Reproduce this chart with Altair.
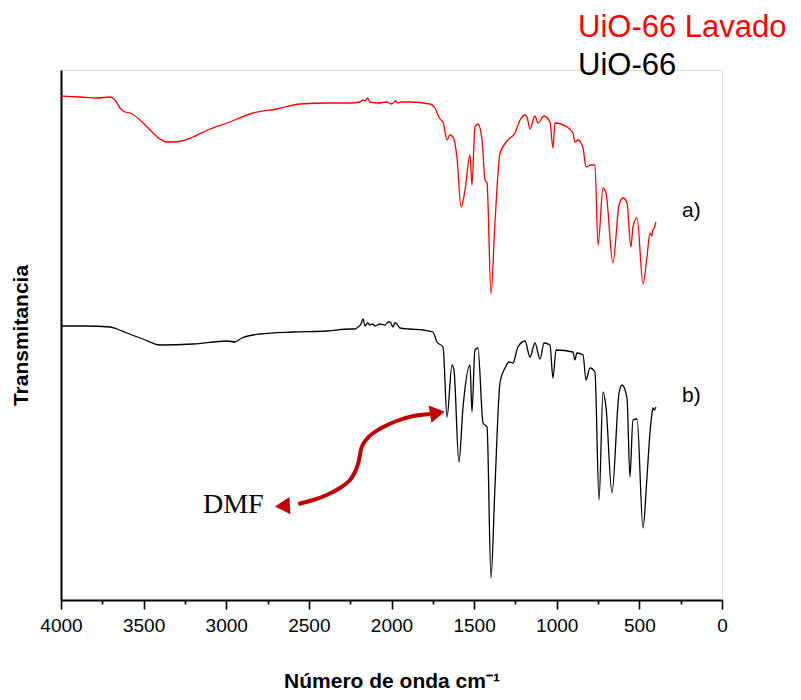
import altair as alt
import pandas as pd

# UiO-66 Lavado (red) : wavenumber (cm-1), transmittance (arb. units)
red_wn = [4000, 3885, 3780, 3703, 3673, 3643, 3612, 3582, 3522, 3461, 3401, 3358, 3320, 3268,
          3201, 3098, 2995, 2838, 2693, 2554, 2390, 2250, 2191, 2172, 2160, 2145, 2130, 2080,
          2030, 2000, 1991, 1975, 1961, 1940, 1888, 1767, 1737, 1707, 1688, 1664, 1646, 1628,
          1604, 1579, 1555, 1525, 1513, 1495, 1477, 1452, 1434, 1422, 1398, 1374, 1343, 1295,
          1253, 1222, 1192, 1180, 1162, 1132, 1113, 1077, 1041, 1023, 1011, 938, 902, 890, 871,
          841, 823, 793, 769, 750, 720, 702, 660, 623, 599, 575, 551, 539, 514, 478, 454, 436,
          425, 418, 410, 400]
red_t = [504, 503, 502, 503, 500, 492, 488, 487, 480, 470, 461, 458, 458, 459,
         463, 471, 477, 487, 491, 496, 497, 497, 498, 500, 499, 502, 498, 497,
         498, 496, 497, 499, 497, 498, 498, 496, 492, 481, 478, 460, 465, 463,
         443, 393, 410, 445, 415, 473, 476, 460, 420, 417, 306, 377, 447, 460,
         467, 480, 485, 483, 471, 484, 477, 484, 478, 452, 477, 473, 467, 458, 460,
         452, 433, 435, 435, 355, 412, 407, 337, 395, 402, 397, 353, 373, 382, 316, 343, 367,
         364, 370, 372, 378]

# UiO-66 (black)
black_wn = [4000, 3850, 3703, 3661, 3601, 3504, 3401, 3201, 2995, 2947, 2905, 2796, 2596, 2390,
            2251, 2220, 2203, 2185, 2172, 2160, 2145, 2130, 2115, 2100, 2070, 2039, 2020,
            2009, 1991, 1980, 1967, 1949, 1888, 1809, 1749, 1725, 1688, 1664, 1634, 1622,
            1592, 1567, 1525, 1513, 1495, 1477, 1446, 1422, 1398, 1374, 1343, 1313, 1289,
            1265, 1235, 1192, 1162, 1132, 1101, 1077, 1041, 1023, 1004, 902, 890, 878, 841,
            823, 799, 769, 744, 720, 702, 666, 623, 605, 575, 557, 539, 514, 478, 454, 436,
            425, 418, 410, 400]
black_t = [274, 274, 273, 271, 267, 261, 255, 256, 259, 258, 262, 266, 268, 269,
           271, 271, 273, 276, 281, 274, 277, 275, 276, 274, 276, 275, 278,
           278, 273, 277, 276, 272, 271, 270, 268, 258, 253, 183, 235, 230,
           138, 193, 235, 188, 250, 252, 177, 173, 22, 113, 218, 232, 238,
           237, 253, 259, 243, 257, 241, 257, 255, 222, 250, 248, 240, 247, 245,
           220, 232, 228, 100, 208, 193, 107, 207, 215, 202, 123, 180, 181, 72, 123, 167,
           185, 192, 190, 193]

# DMF double arrow path (wavenumber, transmittance)
arrow_wn = [1767, 1868, 1969, 2050, 2110, 2150, 2180, 2191, 2201, 2221, 2251, 2312, 2392, 2473, 2564]
arrow_t = [186, 184, 179, 173, 167, 161, 153, 145, 137, 128, 120, 112, 105, 100, 96]
head_wn = [1722, 2660]
head_t = [187, 94]
head_shape = ["triangle-right", "triangle-left"]
head_angle = [351, 357]

# annotation labels
label_text = ["a)", "b)"]
label_wn = [242, 242]
label_t = [383, 198]

dmf_text = ["DMF"]
dmf_wn = [3141]
dmf_t = [87]

legend_text = ["UiO-66 Lavado", "UiO-66"]
legend_color = ["#ff0000", "#000000"]

ticks = list(range(0, 4001, 250))

spectra = pd.concat([
    pd.DataFrame({"wn": red_wn, "t": red_t, "serie": "UiO-66 Lavado"}),
    pd.DataFrame({"wn": black_wn, "t": black_t, "serie": "UiO-66"}),
])
arrow_df = pd.DataFrame({"wn": arrow_wn, "t": arrow_t})
head_df = pd.DataFrame({"wn": head_wn, "t": head_t, "shape": head_shape, "angle": head_angle})
label_df = pd.DataFrame({"wn": label_wn, "t": label_t, "txt": label_text})
dmf_df = pd.DataFrame({"wn": dmf_wn, "t": dmf_t, "txt": dmf_text})

xscale = alt.Scale(domain=[0, 4000], reverse=True, nice=False, zero=False)
yscale = alt.Scale(domain=[0, 530], nice=False, zero=False)

xaxis = alt.Axis(
    values=ticks, format="d",
    labelExpr="datum.value % 500 === 0 ? datum.label : ''",
    tickSize={"condition": {"test": "datum.value % 500 !== 0", "value": 4}, "value": 9},
    tickWidth=1.6, tickColor="black", domainColor="black", domainWidth=2,
    labelFont="Liberation Sans", labelFontSize=19, labelColor="black", labelPadding=7,
    labelFlush=False, labelOverlap=False,
    grid=False,
    title="Número de onda cm⁻¹", titleFont="Liberation Sans", titleFontSize=21,
    titleFontWeight="bold", titleColor="black", titlePadding=35,
)
yaxis = alt.Axis(
    ticks=False, labels=False, grid=False, domainColor="black", domainWidth=2,
    title="Transmitancia", titleFont="Liberation Sans", titleFontSize=21,
    titleFontWeight="bold", titleColor="black", titlePadding=30,
)

base = alt.Chart(spectra)
lines = base.mark_line(strokeWidth=1.3, interpolate="monotone").encode(
    x=alt.X("wn:Q", scale=xscale, axis=xaxis),
    y=alt.Y("t:Q", scale=yscale, axis=yaxis),
    color=alt.Color("serie:N", scale=alt.Scale(domain=["UiO-66 Lavado", "UiO-66"],
                                               range=["#ff0000", "#000000"]), legend=None),
    detail="serie:N",
)

arrow = alt.Chart(arrow_df).mark_line(color="#c00000", strokeWidth=4, interpolate="catmull-rom").encode(
    x=alt.X("wn:Q", scale=xscale), y=alt.Y("t:Q", scale=yscale)
)
heads = alt.Chart(head_df).mark_point(filled=True, color="#c00000", size=300, opacity=1).encode(
    x=alt.X("wn:Q", scale=xscale), y=alt.Y("t:Q", scale=yscale),
    shape=alt.Shape("shape:N", scale=None), angle=alt.Angle("angle:Q", scale=None)
)

labels = alt.Chart(label_df).mark_text(align="left", baseline="alphabetic", font="Liberation Sans",
                                       fontSize=21, color="black").encode(
    x=alt.X("wn:Q", scale=xscale), y=alt.Y("t:Q", scale=yscale), text="txt:N"
)
dmf = alt.Chart(dmf_df).mark_text(align="left", baseline="alphabetic", font="Liberation Serif",
                                  fontSize=28, color="black").encode(
    x=alt.X("wn:Q", scale=xscale), y=alt.Y("t:Q", scale=yscale), text="txt:N"
)

leg1 = alt.Chart(pd.DataFrame({"txt": [legend_text[0]]})).mark_text(
    align="left", baseline="alphabetic", font="Liberation Sans", fontSize=31, color=legend_color[0]
).encode(x=alt.value(517), y=alt.value(-33), text="txt:N")
leg2 = alt.Chart(pd.DataFrame({"txt": [legend_text[1]]})).mark_text(
    align="left", baseline="alphabetic", font="Liberation Sans", fontSize=31, color=legend_color[1]
).encode(x=alt.value(517), y=alt.value(5), text="txt:N")

chart = alt.layer(lines, arrow, heads, labels, dmf, leg1, leg2).properties(
    width=661, height=530,
    autosize=alt.AutoSizeParams(type="none"),
    padding={"left": 53, "top": 62, "right": 71, "bottom": 92},
).configure_view(stroke=None).configure(background="white")

chart.save("out.html", embed_options={"renderer": "svg", "actions": False})
